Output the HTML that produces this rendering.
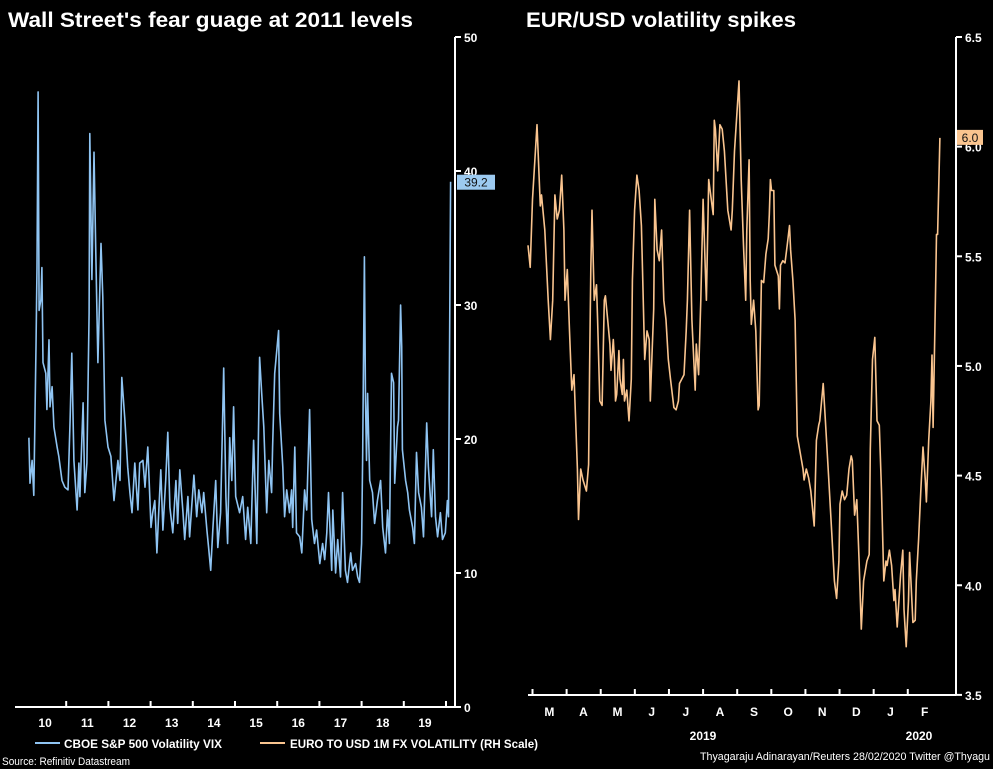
<!DOCTYPE html>
<html><head><meta charset="utf-8"><style>
html,body{margin:0;padding:0;background:#000;}
svg{display:block;font-family:"Liberation Sans",sans-serif;}
</style></head><body>
<svg id="c" width="993" height="769" viewBox="0 0 993 769">
<rect width="993" height="769" fill="#000"/>
<text x="8" y="27" fill="#fff" font-size="21" font-weight="bold" textLength="405" lengthAdjust="spacingAndGlyphs">Wall Street's fear guage at 2011 levels</text>
<text x="526" y="27" fill="#fff" font-size="21" font-weight="bold" textLength="270" lengthAdjust="spacingAndGlyphs">EUR/USD volatility spikes</text>
<g id="left"></g>
<g id="right"></g>
<line x1="35" y1="743" x2="60" y2="743" stroke="#8fc4f2" stroke-width="2"/>
<text x="64" y="748" fill="#fff" font-size="12" font-weight="bold" textLength="158" lengthAdjust="spacingAndGlyphs">CBOE S&amp;P 500 Volatility VIX</text>
<line x1="260" y1="743" x2="285" y2="743" stroke="#f9c48f" stroke-width="2"/>
<text x="290" y="748" fill="#fff" font-size="12" font-weight="bold" textLength="248" lengthAdjust="spacingAndGlyphs">EURO TO USD 1M FX VOLATILITY (RH Scale)</text>
<text x="2" y="765" fill="#fff" font-size="11" textLength="128" lengthAdjust="spacingAndGlyphs">Source: Refinitiv Datastream</text>
<text x="990" y="760" fill="#fff" font-size="11" text-anchor="end" textLength="290" lengthAdjust="spacingAndGlyphs">Thyagaraju Adinarayan/Reuters 28/02/2020 Twitter @Thyagu</text>
</svg>
<script>
// VIX: months since Jan 2010, index value
const vixMonths=[1.4,1.7,2.3,2.8,3.4,3.7,4.0,4.3,4.8,5.1,5.4,6.2,6.5,7.1,7.4,8.0,8.5,9.4,9.9,10.8,11.6,12.5,13.1,13.6,14.2,15.1,15.6,15.9,16.8,17.3,17.9,18.5,18.7,19.3,19.9,20.4,21.0,21.9,22.4,23.0,23.9,24.7,25.6,26.7,27.3,27.8,28.7,29.5,30.1,30.7,31.5,32.4,32.9,33.8,34.4,35.2,36.1,36.6,37.2,37.8,38.3,38.9,39.5,40.3,40.9,41.5,42.3,43.2,43.7,44.3,45.2,45.7,46.6,47.1,48.3,49.1,49.7,50.6,51.1,52.0,52.5,53.1,53.7,54.5,55.1,55.9,56.8,57.4,57.9,58.5,59.1,59.6,60.2,61.3,62.2,63.0,63.6,64.5,65.3,66.2,67.0,67.6,68.2,69.0,69.6,70.4,70.7,71.3,72.4,72.7,73.6,74.1,74.7,75.5,76.1,76.4,77.0,77.5,78.4,79.0,79.8,80.4,81.2,81.8,82.6,83.2,84.1,84.9,85.5,86.1,86.6,87.5,87.8,88.6,89.2,90.0,90.6,91.4,92.0,92.9,93.4,94.3,94.9,95.4,96.0,96.3,96.8,97.1,97.4,97.7,98.3,99.1,99.7,100.5,101.4,102.0,102.8,103.4,103.9,104.5,105.1,105.4,106.2,106.5,107.1,107.4,107.6,108.5,109.1,109.6,110.5,111.0,111.6,112.2,113.0,113.6,114.5,115.0,115.9,116.4,117.0,117.6,118.4,119.0,119.8,120.4,120.7,121.3];
const vixValues=[20.1,16.7,18.4,15.8,26.9,32.8,45.9,29.6,30.4,32.8,25.7,24.9,22.2,27.4,22.4,23.9,20.9,19.4,18.7,16.9,16.4,16.2,21.4,26.4,18.4,14.7,18.2,15.7,22.7,16.0,18.2,29.4,42.8,31.9,41.4,34.3,25.7,34.6,30.6,21.4,19.4,18.7,15.4,18.4,16.9,24.6,21.4,17.9,16.0,14.5,18.2,14.7,18.2,18.4,16.4,19.4,13.4,14.5,15.4,11.5,14.5,17.7,13.2,16.9,20.5,14.9,13.0,16.9,13.7,17.7,14.5,12.5,15.7,12.7,17.3,14.2,16.2,14.5,16.0,13.2,11.9,10.2,13.2,16.9,11.9,14.5,25.3,15.7,12.2,20.1,16.9,22.4,15.7,14.5,15.7,12.5,14.9,12.2,19.9,12.2,26.1,23.4,20.9,14.5,18.4,16.0,19.4,24.9,28.1,21.9,17.9,14.2,16.2,14.5,16.2,13.4,19.4,13.0,12.7,11.5,16.2,14.7,22.2,14.0,12.2,13.2,10.7,12.2,11.0,13.0,16.0,10.2,14.7,10.0,12.5,9.7,16.0,10.2,9.3,11.5,10.2,10.7,9.7,9.3,12.2,19.0,33.6,22.9,18.4,23.4,16.9,16.0,13.7,15.4,16.9,13.4,11.5,14.7,12.2,24.9,24.2,16.7,20.9,21.4,30.0,26.9,19.2,16.9,16.0,14.7,13.4,12.2,19.0,16.0,14.9,12.7,21.2,17.9,14.2,19.2,14.2,12.7,14.5,12.5,13.0,15.4,14.2,39.2];
const vixTicks=[0,10,20,30,40,50];
const vixYearLabels=["10","11","12","13","14","15","16","17","18","19"];
// EUR/USD 1M vol: days since 25 Feb 2019, vol %
const fxDays=[0,2,4,8,11,12,15,18,20,22,24,26,28,30,32,33,35,37,39,41,44,45,47,49,52,54,55,56,57,59,61,62,64,66,68,69,71,73,74,76,77,78,79,81,82,84,85,86,88,90,92,93,95,97,99,101,102,104,106,108,109,112,113,115,117,119,121,123,125,127,130,132,134,135,139,141,142,144,146,149,150,152,154,156,158,159,161,165,166,167,169,171,173,175,178,181,182,184,188,190,192,194,195,197,198,199,201,203,205,206,207,208,210,212,214,215,216,217,219,220,223,224,225,227,229,231,233,234,236,238,240,242,245,246,248,250,252,255,257,259,260,263,265,268,271,273,275,277,278,280,282,284,286,288,289,291,293,295,297,299,302,304,305,307,309,311,313,315,317,319,320,322,324,326,327,329,332,334,335,337,339,340,343,345,346,348,350,352,354,355,357,359,360,361,363,364,365,367];
const fxValues=[5.55,5.45,5.76,6.10,5.73,5.78,5.62,5.30,5.12,5.30,5.78,5.67,5.71,5.87,5.62,5.30,5.44,5.16,4.89,4.96,4.53,4.30,4.53,4.48,4.43,4.55,5.03,5.44,5.71,5.30,5.37,5.21,4.84,4.82,5.30,5.32,5.21,5.10,4.98,5.12,5.03,4.84,4.87,5.07,4.94,4.87,5.03,4.84,4.89,4.75,4.94,5.39,5.71,5.87,5.80,5.64,5.44,5.03,5.16,5.12,4.84,5.26,5.76,5.53,5.48,5.62,5.30,5.21,5.03,4.94,4.81,4.80,4.84,4.92,4.96,5.16,5.30,5.71,5.21,4.89,5.10,4.96,5.30,5.76,5.44,5.30,5.85,5.69,6.12,6.08,5.89,6.10,6.08,5.98,5.71,5.62,5.71,5.98,6.30,5.85,5.55,5.30,5.62,5.94,5.39,5.19,5.30,5.16,4.80,4.82,5.10,5.39,5.38,5.51,5.58,5.69,5.85,5.80,5.80,5.46,5.41,5.26,5.46,5.48,5.47,5.55,5.64,5.53,5.39,5.21,4.68,4.62,4.53,4.48,4.53,4.49,4.43,4.27,4.66,4.73,4.75,4.92,4.75,4.48,4.21,4.02,3.94,4.11,4.37,4.43,4.39,4.41,4.53,4.59,4.57,4.32,4.39,4.11,3.80,4.02,4.11,4.14,4.62,5.03,5.13,4.75,4.73,4.43,4.02,4.11,4.09,4.16,4.09,3.93,3.98,3.81,4.05,4.16,3.89,3.72,3.93,4.15,3.83,3.84,4.02,4.21,4.43,4.63,4.48,4.38,4.66,4.84,5.05,4.72,5.30,5.60,5.60,6.04];
const fxTicks=[3.5,4.0,4.5,5.0,5.5,6.0,6.5];
const fxMonthLabels=["M","A","M","J","J","A","S","O","N","D","J","F"];

const NS="http://www.w3.org/2000/svg";
function mk(parent,tag,attrs){const e=document.createElementNS(NS,tag);for(const k in attrs)e.setAttribute(k,attrs[k]);parent.appendChild(e);return e;}

// ---- left VIX panel ----
const L=document.getElementById('left');
const vx=m=>24+m*(42.2/12);
const vy=v=>707-v*13.4;
let ax=mk(L,'line',{x1:455,y1:37,x2:455,y2:707,stroke:'#fff','stroke-width':2});


vixTicks.forEach(t=>{
  const tk=mk(L,'line',{x1:455,x2:461,y1:vy(t),y2:vy(t),stroke:'#fff','stroke-width':2});
  
  
  const lb=mk(L,'text',{x:464,y:vy(t)+5,fill:'#fff','font-size':12,'font-weight':'bold'});
  lb.textContent=String(t);
  
  
});
let bx=mk(L,'line',{x1:15,y1:707,x2:455,y2:707,stroke:'#fff','stroke-width':2});


vixYearLabels.forEach((y,i)=>{
  const tx=vx((i+1)*12);
  const tk=mk(L,'line',{x1:tx,x2:tx,y1:701,y2:707,stroke:'#fff','stroke-width':2});
  
  
  const lb=mk(L,'text',{x:vx(i*12+6),y:727,fill:'#fff','font-size':12,'font-weight':'bold','text-anchor':'middle'});
  lb.textContent=y;
  
  
});
let vp=mk(L,'polyline',{points:vixMonths.map((m,i)=>vx(m).toFixed(1)+','+vy(vixValues[i]).toFixed(1)).join(' '),fill:'none',stroke:'#8fc4f2','stroke-width':1.6,'stroke-linejoin':'round'});


const vLast=vixValues[vixValues.length-1];
let vb=mk(L,'rect',{x:457,y:vy(vLast)-7,width:38,height:15,fill:'#9ccaf0'});


let vt=mk(L,'text',{x:476,y:vy(vLast)+5,fill:'#111','font-size':12,'text-anchor':'middle'});
vt.textContent=vLast.toFixed(1);



// ---- right EUR/USD panel ----
const R=document.getElementById('right');
const fx=d=>528+d*(413/368);
const fy=v=>37+(6.5-v)*219.3;
let rax=mk(R,'line',{x1:956,y1:37,x2:956,y2:695,stroke:'#fff','stroke-width':2});


fxTicks.forEach(t=>{
  const tk=mk(R,'line',{x1:956,x2:962,y1:fy(t),y2:fy(t),stroke:'#fff','stroke-width':2});
  
  
  const lb=mk(R,'text',{x:965,y:fy(t)+5,fill:'#fff','font-size':12,'font-weight':'bold'});
  lb.textContent=t.toFixed(1);
  
  
});
let rbx=mk(R,'line',{x1:528,y1:695,x2:956,y2:695,stroke:'#fff','stroke-width':2});


fxMonthLabels.forEach((m,i)=>{
  const d0=4+i*30.4;
  const tx=fx(d0);
  const tk=mk(R,'line',{x1:tx,x2:tx,y1:689,y2:695,stroke:'#fff','stroke-width':2});
  
  
  const lb=mk(R,'text',{x:fx(d0+15),y:716,fill:'#fff','font-size':12,'font-weight':'bold','text-anchor':'middle'});
  lb.textContent=m;
  
  
});
let y19=mk(R,'text',{x:703,y:740,fill:'#fff','font-size':12,'font-weight':'bold','text-anchor':'middle'});
y19.textContent='2019';


let y20=mk(R,'text',{x:919,y:740,fill:'#fff','font-size':12,'font-weight':'bold','text-anchor':'middle'});
y20.textContent='2020';


let fp=mk(R,'polyline',{points:fxDays.map((d,i)=>fx(d).toFixed(1)+','+fy(fxValues[i]).toFixed(1)).join(' '),fill:'none',stroke:'#f9c48f','stroke-width':1.6,'stroke-linejoin':'round'});


const fLast=fxValues[fxValues.length-1];
let fb=mk(R,'rect',{x:957,y:fy(fLast)-8,width:26,height:15,fill:'#f9c48f'});


let ft=mk(R,'text',{x:970,y:fy(fLast)+4,fill:'#111','font-size':12,'text-anchor':'middle'});
ft.textContent=fLast.toFixed(1);


</script>
</body></html>
